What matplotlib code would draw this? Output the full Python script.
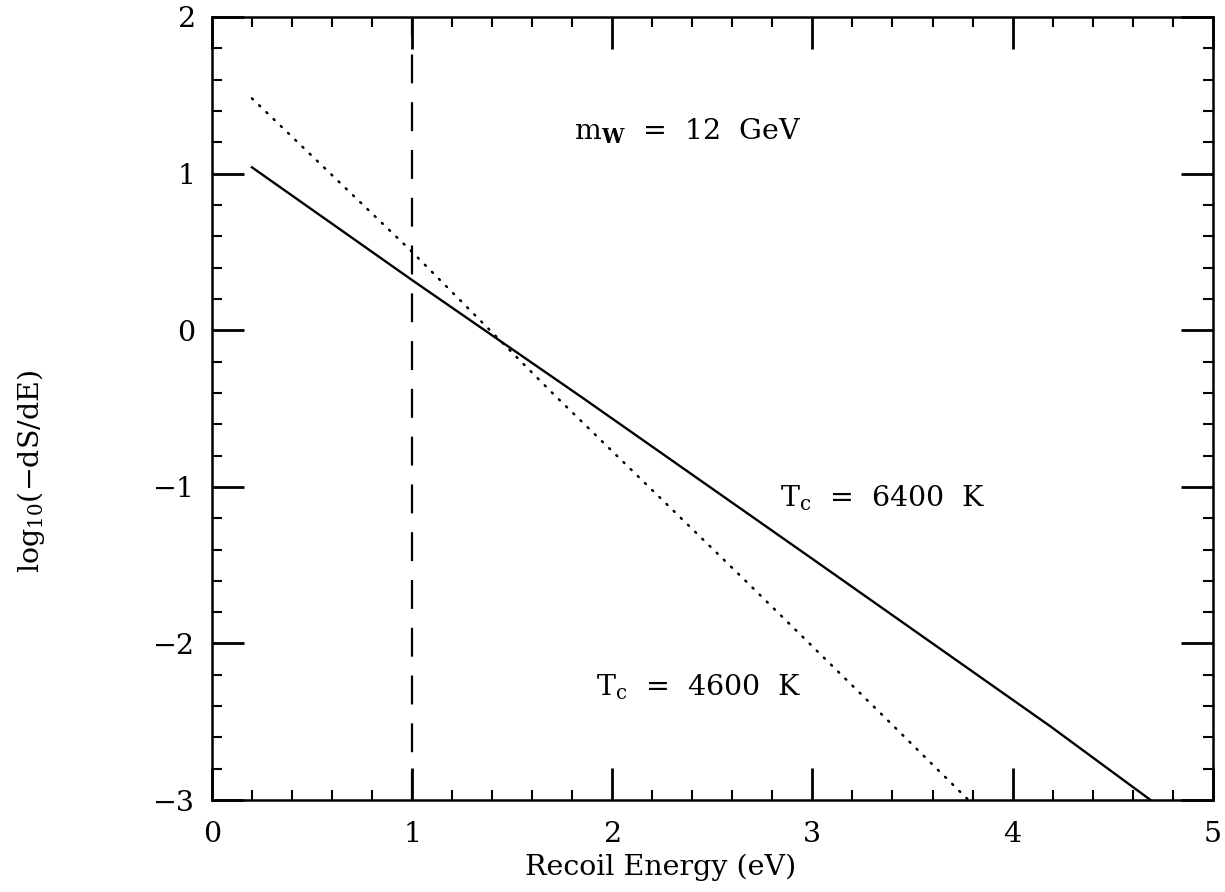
import matplotlib
matplotlib.use('Agg')
import matplotlib.pyplot as plt
from matplotlib.ticker import MultipleLocator

plt.rcParams['font.family'] = ['DejaVu Serif']
plt.rcParams['mathtext.fontset'] = 'dejavuserif'

# solid curve, T_c = 6400 K
e_6400 = [0.2, 1.0, 1.85, 3.0, 4.19, 4.69]
s_6400 = [1.04, 0.32, -0.43, -1.46, -2.53, -3.0]
# dotted curve, T_c = 4600 K
e_4600 = [0.2, 1.0, 1.7, 2.69, 3.36, 3.78]
s_4600 = [1.48, 0.50, -0.40, -1.63, -2.47, -3.0]
threshold = 1.0

fig = plt.figure(figsize=(12.25, 8.92), dpi=100)
ax = fig.add_axes([0.173, 0.103, 0.817, 0.878])

ax.plot(e_6400, s_6400, color='black', lw=1.7)
ax.plot(e_4600, s_4600, color='black', lw=1.8, linestyle=(0, (0.5, 3.5)),
        dash_capstyle='round')
ax.axvline(threshold, color='black', lw=1.6, linestyle=(0, (13, 8.5)))

ax.set_xlim(0, 5)
ax.set_ylim(-3, 2)
ax.xaxis.set_major_locator(MultipleLocator(1))
ax.xaxis.set_minor_locator(MultipleLocator(0.2))
ax.yaxis.set_major_locator(MultipleLocator(1))
ax.yaxis.set_minor_locator(MultipleLocator(0.2))
ax.tick_params(which='both', direction='in', top=True, right=True,
               labelsize=20.5, color='black')
ax.tick_params(which='major', length=23, width=2)
ax.tick_params(which='minor', length=7, width=1.5)
ax.tick_params(axis='x', pad=15)
ax.tick_params(axis='y', pad=12)
for s in ax.spines.values():
    s.set_linewidth(1.8)

ax.set_xlabel('Recoil Energy (eV)', fontsize=20.5)
ax.set_ylabel('log$_{10}$(\u2212dS/dE)', fontsize=20.5)
ax.xaxis.set_label_coords(0.448, -0.068)
ax.yaxis.set_label_coords(-0.165, 0.42)

ax.text(1.81, 1.27, 'm$_\\mathbf{W}$  =  12  GeV', fontsize=20.5, va='center')
ax.text(2.84, -1.07, 'T$_\\mathrm{c}$  =  6400  K', fontsize=20.5, va='center')
ax.text(1.92, -2.28, 'T$_\\mathrm{c}$  =  4600  K', fontsize=20.5, va='center')

fig.savefig('out.png', dpi=100)
